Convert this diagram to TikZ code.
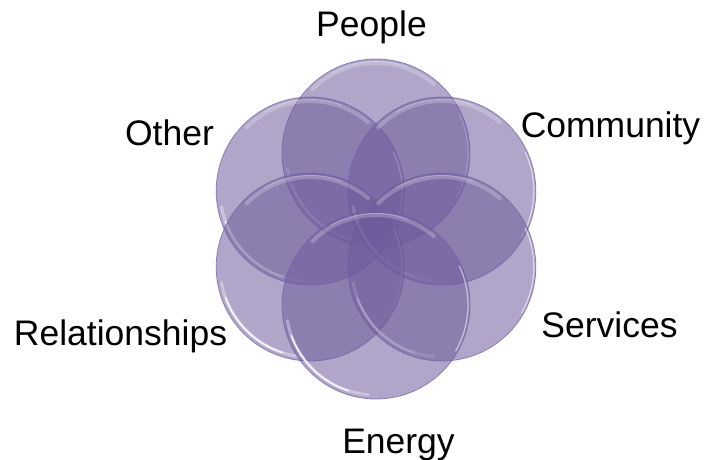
\documentclass[tikz,border=0pt]{standalone}
\usepackage{fontspec}
\setmainfont{Liberation Sans}
\usetikzlibrary{calc}
\begin{document}
\begin{tikzpicture}[x=1pt,y=1pt]
\definecolor{petalfill}{RGB}{110,91,155}
\definecolor{petalrim}{RGB}{115,100,170}
\tikzset{
  petal/.style={circle, minimum size=188pt, inner sep=0pt, fill=petalfill, fill opacity=0.54, draw=petalrim, draw opacity=0.75, line width=0.8pt},
  lbl/.style={font=\fontsize{35.5}{40}\selectfont, anchor=base, text=black, inner sep=0pt},
  gloss/.style={draw=white, line cap=round},
}
\useasboundingbox (0,0) rectangle (707,459);
\coordinate (c) at (376,230);
\foreach \n/\a in {people/90, other/150, community/30, relationships/210, services/-30, energy/-90} {
  \node[petal] (\n) at ($(c)+(\a:76)$) {};
  % soft top sheen
  \draw[gloss, line width=4pt, draw opacity=0.22] ([shift={(50:90)}]\n.center) arc[start angle=50, end angle=135, radius=90];
  \draw[gloss, line width=1pt, draw opacity=0.25] ([shift={(70:91.5)}]\n.center) arc[start angle=70, end angle=120, radius=91.5];
  % bright lower-left reflection
  \draw[gloss, line width=3pt, draw opacity=0.35] ([shift={(190:90)}]\n.center) arc[start angle=190, end angle=265, radius=90];
  \draw[gloss, line width=1.6pt, draw opacity=0.85] ([shift={(200:90)}]\n.center) arc[start angle=200, end angle=252, radius=90];
  % thin right rim reflection
  \draw[gloss, line width=1.2pt, draw opacity=0.55] ([shift={(-30:92)}]\n.center) arc[start angle=-30, end angle=25, radius=92];
}
\node[lbl] (lpeople) at (371.5,422) {People};
\node[lbl] (lcommunity) at (610.5,322) {Community};
\node[lbl] (lother) at (169.5,314) {Other};
\node[lbl] (lrelationships) at (120.5,114) {Relationships};
\node[lbl] (lservices) at (609.5,122) {Services};
\node[lbl] (lenergy) at (398.5,6) {Energy};
\end{tikzpicture}
\end{document}
